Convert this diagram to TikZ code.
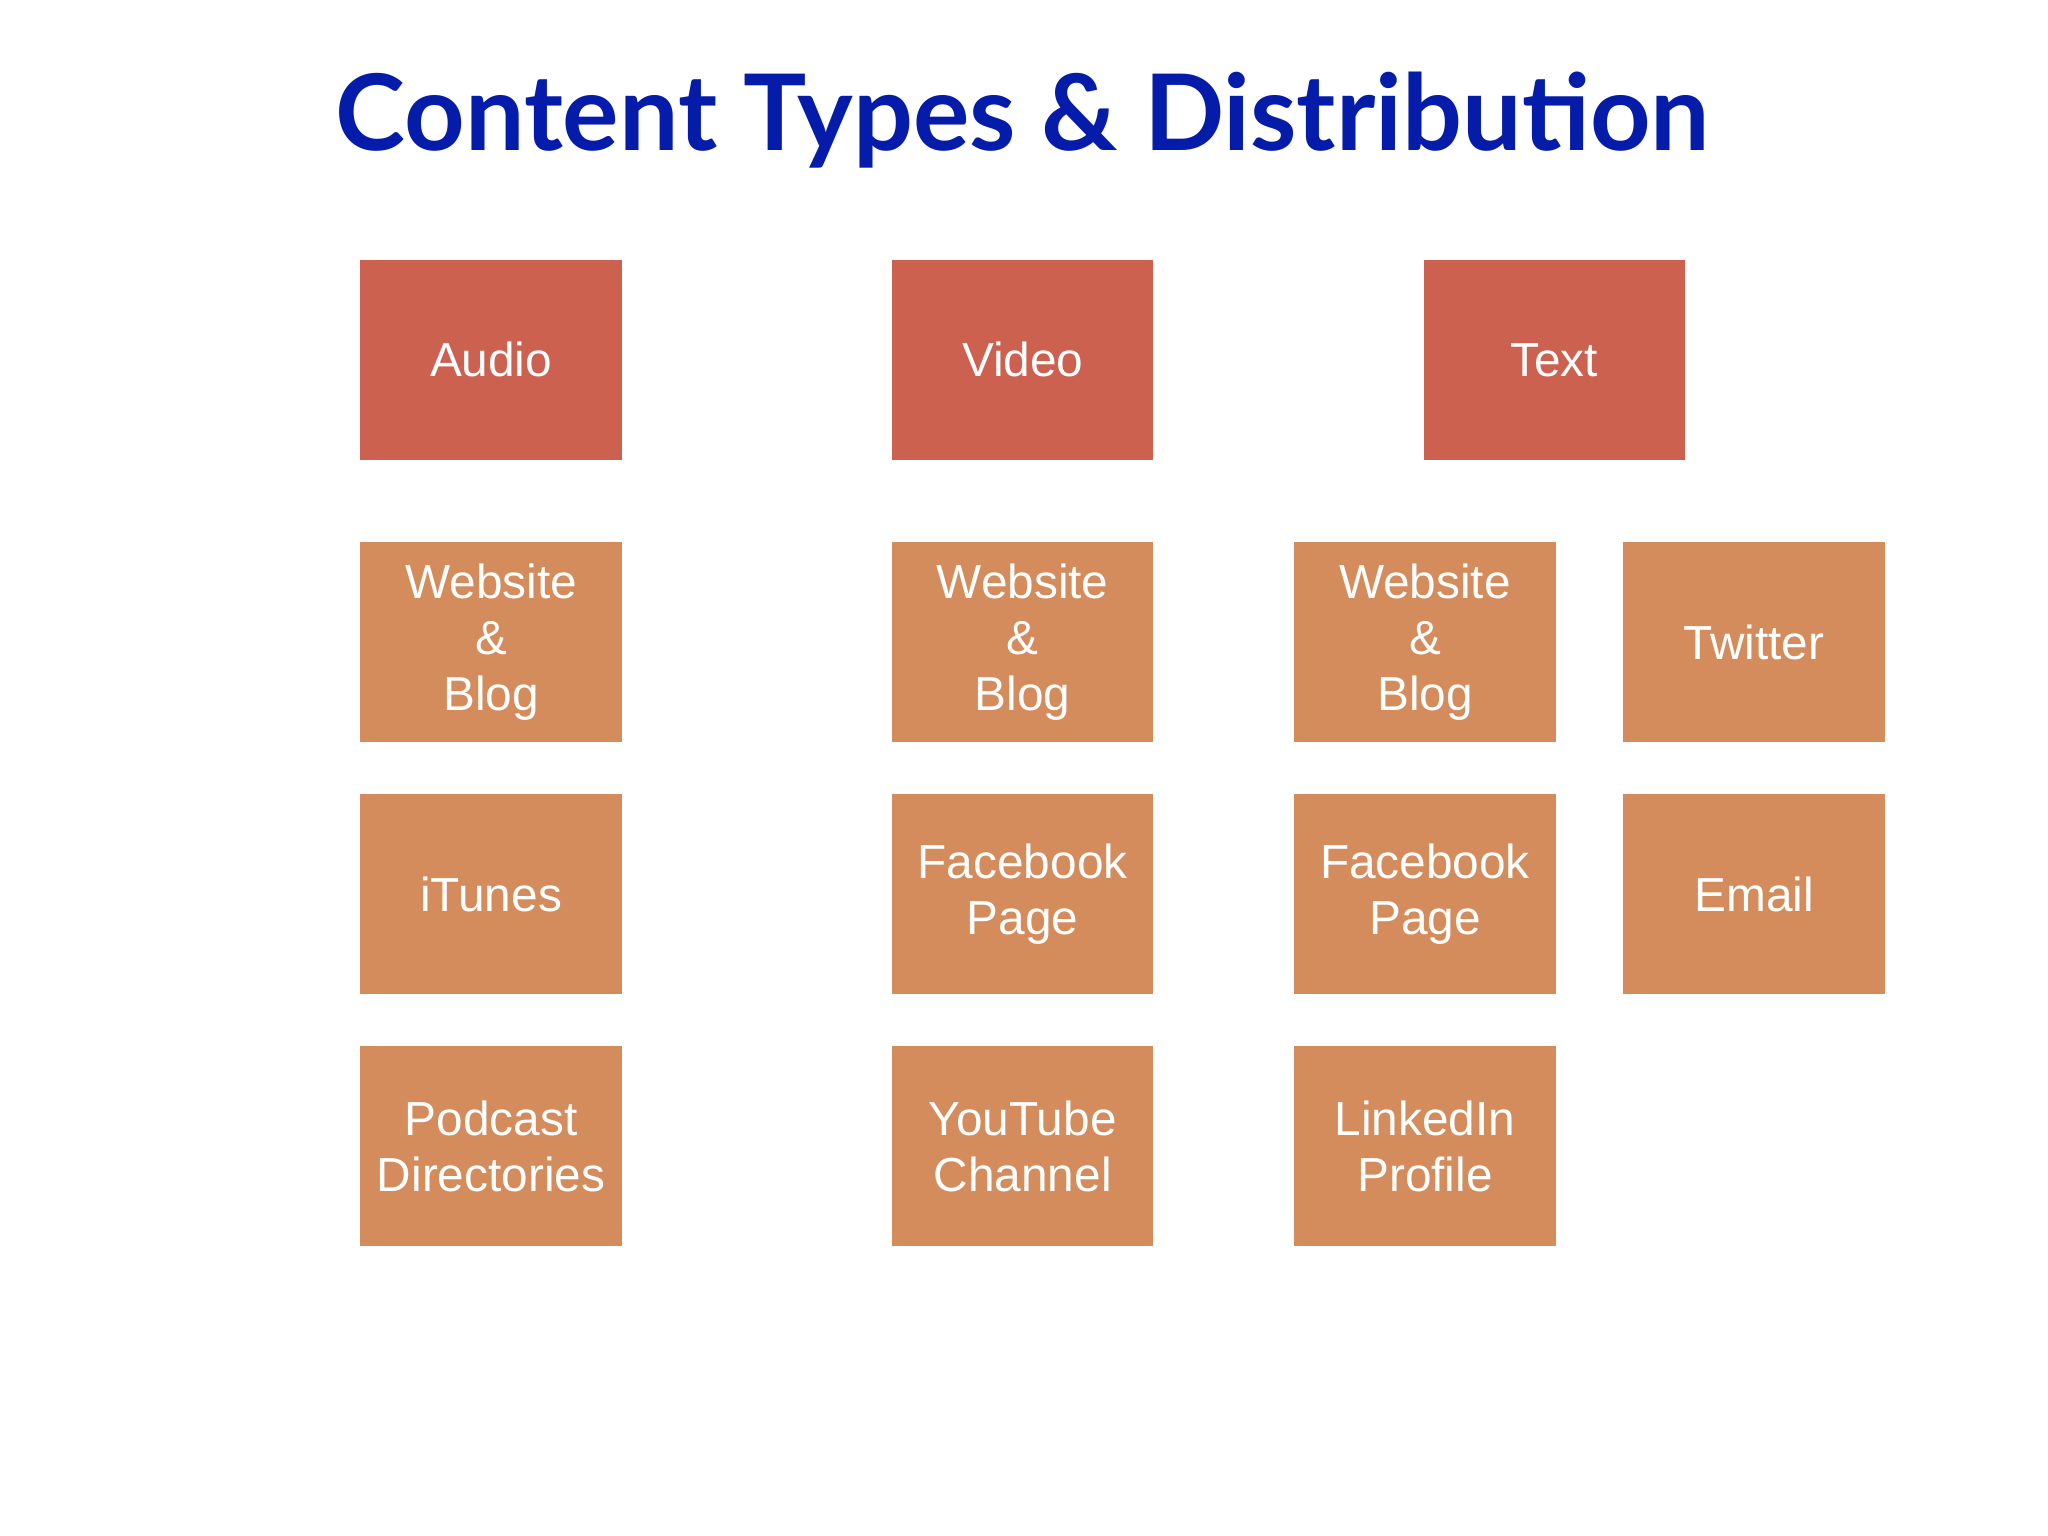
\documentclass[tikz,border=0pt]{standalone}
\usepackage{fontspec}
\setmainfont{Liberation Sans}
\newfontfamily\titlefont{Lato Bold}
\definecolor{redbox}{RGB}{204,97,80}
\definecolor{orbox}{RGB}{212,140,92}
\definecolor{titleblue}{RGB}{5,28,170}
\begin{document}
\begin{tikzpicture}[x=0.01cm,y=-0.01cm,
  box/.style={minimum width=2cm,minimum height=1.53cm,inner sep=0pt,align=center,text=white,font=\fontsize{10.4}{12.2}\selectfont},
  topbox/.style={box,fill=redbox},
  subbox/.style={box,fill=orbox}]
\useasboundingbox[fill=white] (0,0) rectangle (1568,1176);
\node[font=\titlefont\fontsize{23}{26}\selectfont,text=titleblue] (title) at (783,92) {Content Types \& Distribution};
\node[topbox] (audio) at (376,275.5) {Audio};
\node[topbox] (video) at (783,275.5) {Video};
\node[topbox] (text) at (1190,275.5) {Text};
\node[subbox] (awb) at (376,491.5) {Website\\\&\\Blog};
\node[subbox] (itunes) at (376,684.5) {iTunes};
\node[subbox] (pod) at (376,877.5) {Podcast\\Directories};
\node[subbox] (vwb) at (783,491.5) {Website\\\&\\Blog};
\node[subbox] (vfb) at (783,684.5) {Facebook\\Page};
\node[subbox] (yt) at (783,877.5) {YouTube\\Channel};
\node[subbox] (twb) at (1091,491.5) {Website\\\&\\Blog};
\node[subbox] (tfb) at (1091,684.5) {Facebook\\Page};
\node[subbox] (li) at (1091,877.5) {LinkedIn\\Profile};
\node[subbox] (tw) at (1343,491.5) {Twitter};
\node[subbox] (email) at (1343,684.5) {Email};
\end{tikzpicture}
\end{document}
